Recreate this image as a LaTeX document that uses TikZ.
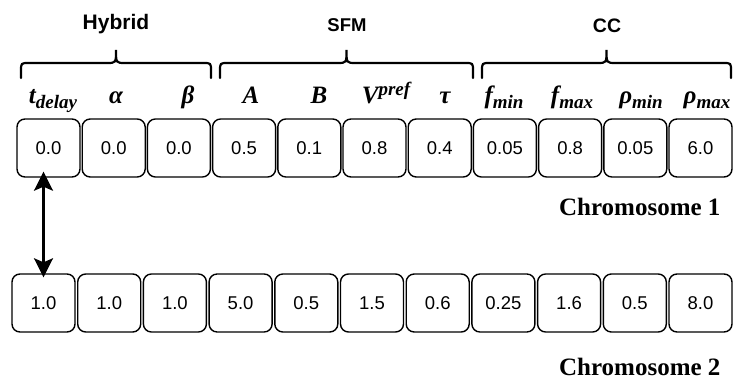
\documentclass[tikz,border=0pt]{standalone}
\usepackage{fontspec}
\setmainfont{Liberation Serif}
\setsansfont{Liberation Sans}
\usetikzlibrary{arrows.meta}

\newcommand{\lo}[1]{\raisebox{-4.5pt}{\fontsize{19}{19}\selectfont #1}}
\newcommand{\hi}[1]{\raisebox{8pt}{\fontsize{19}{19}\selectfont #1}}
\newcommand{\groupbrace}[2]{%
    \pgfmathsetmacro{\m}{(#1+#2)/2}
    \draw[brace] (#1, 78) -- (#1, 71) .. controls (#1, 63) .. ({#1+8}, 63)
        -- ({\m-9}, 63) .. controls (\m, 63) .. (\m, 50)
        .. controls (\m, 63) .. ({\m+9}, 63)
        -- ({#2-8}, 63) .. controls (#2, 63) .. (#2, 71) -- (#2, 78);}

\begin{document}
\begin{tikzpicture}[x=1pt, y=-1pt,
    >={Stealth[length=19pt, width=19pt, inset=4pt]},
    gene/.style={draw, rounded corners=8pt, line width=1.4pt,
        minimum width=63pt, minimum height=58pt, inner sep=0pt,
        font=\sffamily\fontsize{18.5}{18.5}\selectfont},
    param/.style={anchor=base, font=\bfseries\itshape\fontsize{25}{25}\selectfont},
    group/.style={anchor=base, font=\sffamily\bfseries},
    chrom/.style={anchor=base east, font=\bfseries\fontsize{25}{25}\selectfont},
    brace/.style={line width=2.2pt, line cap=round}]
        \useasboundingbox (0, 0) rectangle (733, 379);
        \foreach \v [count=\i] in {0.0, 0.0, 0.0, 0.5, 0.1, 0.8, 0.4, 0.05, 0.8, 0.05, 6.0}
            \node[gene] (c1-\i) at ({48.5+65.2*(\i-1)}, 148) {\v};
        \foreach \v [count=\i] in {1.0, 1.0, 1.0, 5.0, 0.5, 1.5, 0.6, 0.25, 1.6, 0.5, 8.0}
            \node[gene] (c2-\i) at ({43.5+65.7*(\i-1)}, 303) {\v};
        \node[param] (p1) at (53, 104) {t\lo{delay}};
        \node[param] (p2) at (116, 104) {α};
        \node[param] (p3) at (188, 104) {β};
        \node[param] (p4) at (251, 104) {A};
        \node[param] (p5) at (319, 104) {B};
        \node[param] (p6) at (386, 104) {V\hi{pref}};
        \node[param] (p7) at (445, 104) {τ};
        \node[param] (p8) at (504, 104) {f\lo{min}};
        \node[param] (p9) at (572, 104) {f\lo{max}};
        \node[param] (p10) at (641, 104) {ρ\lo{min}};
        \node[param] (p11) at (707, 104) {ρ\lo{max}};
        \groupbrace{21}{211}
        \groupbrace{220}{473}
        \groupbrace{482}{731}
        \node[group, font=\sffamily\bfseries\fontsize{21}{21}\selectfont] (hybrid) at (116, 30) {Hybrid};
        \node[group, font=\sffamily\bfseries\fontsize{18.5}{18.5}\selectfont] (sfm) at (347, 32) {SFM};
        \node[group, font=\sffamily\bfseries\fontsize{19.5}{19.5}\selectfont] (cc) at (607, 33) {CC};
        \coordinate (swap) at (c2-1 |- c1-1.south);
        \draw[line width=2.6pt, <->]
            ([yshift=6pt]swap) -- ([yshift=-4pt]c2-1.north);
        \node[chrom] (chr1) at (724, 216) {Chromosome 1};
        \node[chrom] (chr2) at (724, 375) {Chromosome 2};
    \end{tikzpicture}
\end{document}
